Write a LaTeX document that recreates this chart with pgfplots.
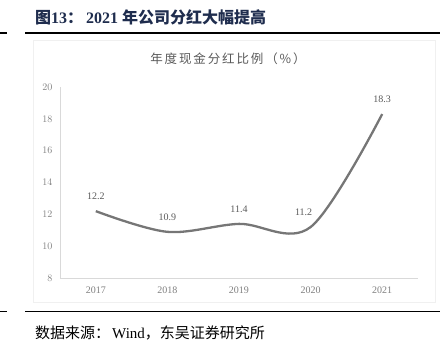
\documentclass[border=0pt]{standalone}
\usepackage{pgfplots}
\pgfplotsset{compat=1.18}
\usepackage{fontspec}
\setmainfont{Liberation Serif}
\newfontfamily\cjk{Noto Sans CJK SC}
\newfontfamily\cjkspaced{Noto Sans CJK SC}[LetterSpace=15]
\definecolor{titleblue}{RGB}{31,45,78}
\definecolor{linegray}{RGB}{118,118,118}
\definecolor{ticktext}{RGB}{127,127,127}
\definecolor{labeltext}{RGB}{89,89,89}
\definecolor{axgray}{RGB}{217,217,217}
\begin{document}
\begin{tikzpicture}[x=1pt,y=1pt]
\useasboundingbox (0,0) rectangle (445,353);
\node[anchor=west, inner sep=0, text=titleblue, font=\bfseries\fontsize{16}{16}\selectfont] at (35,336) {{\cjk 图}13{\cjk ：}\hspace{3pt}2021 {\cjk 年公司分红大幅提高}};
\draw[line width=1.6pt] (0,320) -- (7,320);
\draw[line width=1.6pt] (25,320) -- (440,320);
\draw[line width=1.6pt] (0,41.5) -- (7,41.5);
\draw[line width=1.6pt] (25,41.5) -- (440,41.5);
\node[anchor=west, inner sep=0, font=\fontsize{15}{15}\selectfont] at (35,20) {{\cjk 数据来源：}\hspace{2pt}Wind{\cjk ，东吴证券研究所}};
\draw[black!6] (33,51) rectangle (435,313);
\node[text=labeltext, font=\cjkspaced\fontsize{12.5}{12.5}\selectfont] at (228,294) {年度现金分红比例（\%）};
\begin{axis}[
  at={(60pt,75pt)}, anchor=south west,
  width=358pt, height=191pt, scale only axis,
  xmin=-0.5, xmax=4.5, ymin=8, ymax=20,
  ytick={8,10,...,20},
  xtick={0,1,2,3,4},
  xticklabels={2017,2018,2019,2020,2021},
  axis x line*=bottom, axis y line*=left,
  every outer x axis line/.append style={-, axgray, line width=0.8pt},
  every outer y axis line/.append style={-, axgray, line width=0.8pt},
  every inner x axis line/.append style={-},
  every inner y axis line/.append style={-},
  axis line style={-},
  major tick length=0pt,
  tick style={draw=none},
  tick label style={text=ticktext, font=\fontsize{10}{10}\selectfont},
  yticklabel style={xshift=-4pt},
  xticklabel style={yshift=-5pt},
  clip=false,
]
\addplot[linegray, line width=2.3pt, smooth, tension=0.55] coordinates {(0,12.2)(1,10.9)(2,11.4)(3,11.2)(4,18.3)};
\addplot[draw=none, nodes near coords, point meta=explicit symbolic,
  every node near coord/.append style={anchor=center, yshift=15pt, inner sep=0pt, text=labeltext, font=\fontsize{10}{10}\selectfont}]
  coordinates {(0,12.2)[12.2] (1,10.9)[10.9] (2,11.4)[11.4] (4,18.3)[18.3]};
\addplot[draw=none, nodes near coords, point meta=explicit symbolic,
  every node near coord/.append style={anchor=center, yshift=15pt, xshift=-7pt, inner sep=0pt, text=labeltext, font=\fontsize{10}{10}\selectfont}]
  coordinates {(3,11.2)[11.2]};
\end{axis}
\end{tikzpicture}
\end{document}
